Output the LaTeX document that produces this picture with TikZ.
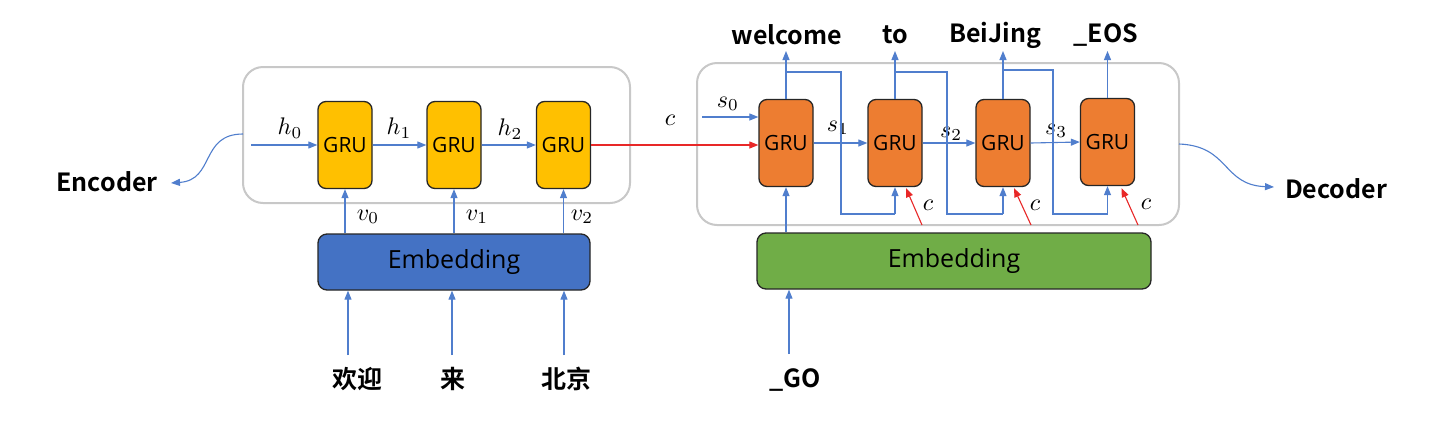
\documentclass[tikz,border=0pt]{standalone}
\usepackage{fontspec}
\usepackage{graphicx}
\setmainfont{Noto Sans CJK SC}[BoldFont={Noto Sans CJK SC Bold}]
\newfontfamily\boxfont{Open Sans}
\usetikzlibrary{arrows.meta,calc}
\newcommand{\mlab}[1]{\scalebox{2.4}{$#1$}}
\definecolor{lblue}{RGB}{80,126,205}
\definecolor{embblue}{RGB}{68,114,196}
\definecolor{embgreen}{RGB}{112,173,71}
\definecolor{gruyellow}{RGB}{255,192,0}
\definecolor{gruorange}{RGB}{237,125,49}
\definecolor{lred}{RGB}{232,40,40}
\definecolor{boxgray}{RGB}{200,200,200}
\tikzset{
  container/.style={draw=boxgray, line width=2pt, rounded corners=20pt, inner sep=0pt},
  grubox/.style={draw=black!85, line width=1.3pt, rounded corners=8pt, minimum width=54pt, minimum height=87pt, inner sep=0pt, font=\boxfont\fontsize{21}{24}\selectfont},
  embbox/.style={draw=black!85, line width=1.3pt, rounded corners=9pt, minimum height=56pt, inner sep=0pt, font=\boxfont\fontsize{25}{28}\selectfont},
  barrow/.style={draw=lblue, line width=1.1pt, -{Triangle[length=9pt,width=7pt]}},
  rarrow/.style={draw=lred, line width=1.1pt, -{Triangle[length=9pt,width=7pt]}},
  bline/.style={draw=lblue, line width=1.1pt},
  word/.style={font=\bfseries\fontsize{25}{28}\selectfont, inner sep=0pt},
  mlabel/.style={inner sep=0pt},
}
\begin{document}
\begin{tikzpicture}[x=1pt,y=-1pt]
\useasboundingbox[fill=white] (0,0) rectangle (1444,424);

% ---------- Encoder ----------
\node[container, minimum width=387pt, minimum height=136pt] (encbox) at (436.5,135) {};
\node[grubox, fill=gruyellow] (eg1) at (345,145) {GRU};
\node[grubox, fill=gruyellow] (eg2) at (454,145) {GRU};
\node[grubox, fill=gruyellow] (eg3) at (563.5,145) {GRU};
\coordinate (h0s) at (251,145);
\draw[barrow] (h0s) -- (eg1.west);
\draw[barrow] (eg1.east) -- (eg2.west);
\draw[barrow] (eg2.east) -- (eg3.west);
\node[mlabel] (h0) at (290,128) {\mlab{h_0}};
\node[mlabel] (h1) at (399,128) {\mlab{h_1}};
\node[mlabel] (h2) at (510,129) {\mlab{h_2}};

\node[embbox, fill=embblue, minimum width=272pt] (eemb) at (454,262) {Embedding};
\draw[barrow] (eg1.south |- eemb.north) -- (eg1.south);
\draw[barrow] (eg2.south |- eemb.north) -- (eg2.south);
\draw[barrow] (eg3.south |- eemb.north) -- (eg3.south);
\node[mlabel] (v0) at (368,217) {\mlab{v_0}};
\node[mlabel] (v1) at (477,217) {\mlab{v_1}};
\node[mlabel] (v2) at (582,217) {\mlab{v_2}};

\node[word] (x1) at (357,379) {欢迎};
\node[word] (x2) at (453,379) {来};
\node[word] (x3) at (566,379) {北京};
\coordinate (x1s) at (348,355);
\coordinate (x2s) at (452,355);
\coordinate (x3s) at (564,355);
\draw[barrow] (x1s) -- (x1s |- eemb.south);
\draw[barrow] (x2s) -- (x2s |- eemb.south);
\draw[barrow] (x3s) -- (x3s |- eemb.south);

\node[word] (enc) at (107,182) {Encoder};
\coordinate (encstart) at (243,134);
\coordinate (encend) at (171,183);
\draw[barrow] (encstart) .. controls (200,134) and (215,180) .. (encend);

% ---------- Decoder ----------
\node[container, minimum width=482pt, minimum height=162pt] (decbox) at (938,144) {};
\node[grubox, fill=gruorange] (dg1) at (786,143) {GRU};
\node[grubox, fill=gruorange] (dg2) at (895,143) {GRU};
\node[grubox, fill=gruorange] (dg3) at (1003,143) {GRU};
\node[grubox, fill=gruorange] (dg4) at (1107.5,142) {GRU};

% context vector
\draw[rarrow] (eg3.east) -- (eg3.east -| dg1.west);
\node[mlabel] (cc) at (670,120) {\mlab{c}};

% s0
\coordinate (s0s) at (702,117);
\draw[barrow] (s0s) -- (s0s -| dg1.west);
\node[mlabel] (s0) at (728,104) {\mlab{s_0}};
\draw[barrow] (dg1.east) -- (dg2.west);
\draw[barrow] (dg2.east) -- (dg3.west);
\draw[barrow] (dg3.east) -- (dg4.west);
\node[mlabel] (s1) at (838,128) {\mlab{s_1}};
\node[mlabel] (s2) at (951,134) {\mlab{s_2}};
\node[mlabel] (s3) at (1056,131) {\mlab{s_3}};

% outputs
\node[word] (o1) at (787,35) {welcome};
\node[word] (o2) at (895,35) {to};
\node[word] (o3) at (995,35) {BeiJing};
\node[word] (o4) at (1106,35) {\_EOS};
\draw[barrow] (dg1.north) -- (dg1.north |- 0,51);
\draw[barrow] (dg2.north) -- (dg2.north |- 0,51);
\draw[barrow] (dg3.north) -- (dg3.north |- 0,51);
\draw[barrow] (dg4.north) -- (dg4.north |- 0,51);

% feedback of outputs to next step
\draw[bline] (dg1.north |- 0,72) -- (841,72) -- (841,214) -- (dg2.south |- 0,214);
\draw[barrow] (dg2.south |- 0,214) -- (dg2.south);
\draw[bline] (dg2.north |- 0,72) -- (947,72) -- (947,214) -- (dg3.south |- 0,214);
\draw[barrow] (dg3.south |- 0,214) -- (dg3.south);
\draw[bline] (dg3.north |- 0,70) -- (1053,70) -- (1053,214) -- (dg4.south |- 0,214);
\draw[barrow] (dg4.south |- 0,214) -- (dg4.south);

% c inputs to each decoder step
\coordinate (c2s) at (922,225);
\coordinate (c3s) at (1031,225);
\coordinate (c4s) at (1138,225);
\draw[rarrow] (c2s) -- ($(dg2.south)+(11,1)$);
\draw[rarrow] (c3s) -- ($(dg3.south)+(11,1)$);
\draw[rarrow] (c4s) -- ($(dg4.south)+(14,2)$);
\node[mlabel] (c2) at (928,205) {\mlab{c}};
\node[mlabel] (c3) at (1035,205) {\mlab{c}};
\node[mlabel] (c4) at (1146,204) {\mlab{c}};

% decoder embedding
\node[embbox, fill=embgreen, minimum width=394pt] (demb) at (954,261) {Embedding};
\draw[barrow] (dg1.south |- demb.north) -- (dg1.south);
\node[word] (go) at (795,380) {\_GO};
\coordinate (gos) at (789,354);
\draw[barrow] (gos) -- (gos |- demb.south);

\node[word] (dec) at (1336,189) {Decoder};
\coordinate (decstart) at (1179,144);
\coordinate (decend) at (1274,187);
\draw[barrow] (decstart) .. controls (1230,146) and (1222,185) .. (decend);
\end{tikzpicture}
\end{document}
